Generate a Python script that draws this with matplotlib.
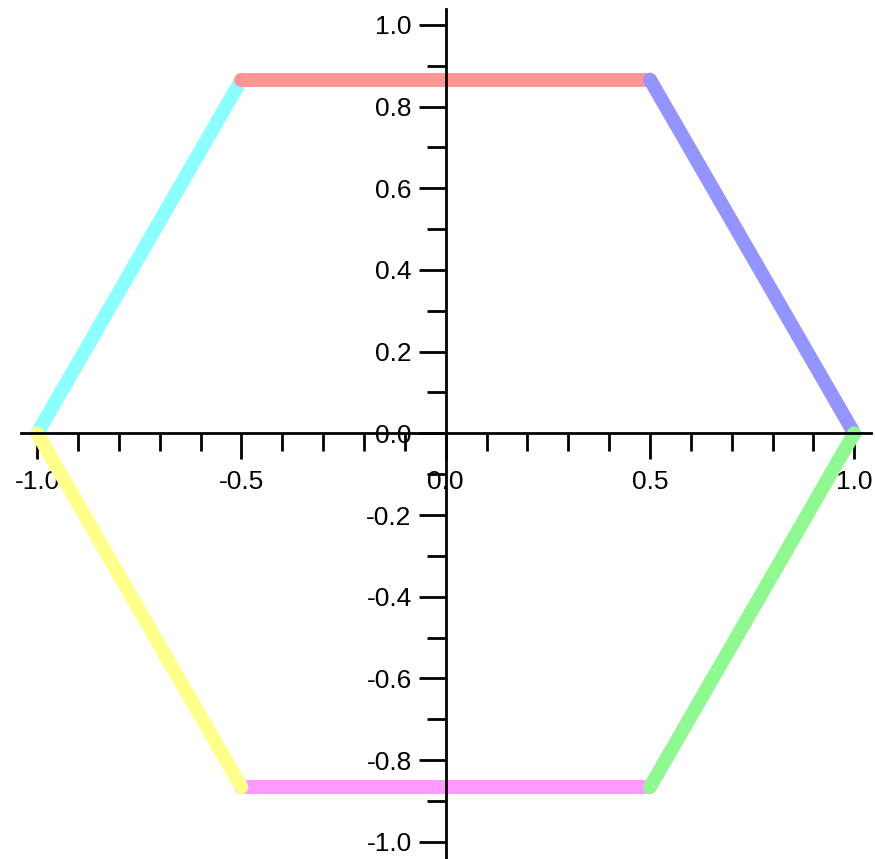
import numpy as np
import matplotlib
matplotlib.use('Agg')
import matplotlib.pyplot as plt
from matplotlib.ticker import MultipleLocator

####################################################################################

plt.rcParams['font.family'] = ['Liberation Sans', 'DejaVu Sans']

FIGURE_XSIZE = 8.75
FIGURE_YSIZE = 8.59
DPI = 100

LINE_WIDTH = 10
LABEL_SIZE = 19

# hexagon edges, each as (start, end) points, in draw order
edge_names = ['upper left', 'top', 'bottom', 'upper right', 'lower left', 'lower right']
edge_x0 = [-1.0, -0.5, -0.5, 0.5, -1.0, 1.0]
edge_y0 = [0.0, 0.866, -0.866, 0.866, 0.0, 0.0]
edge_x1 = [-0.5, 0.5, 0.5, 1.0, -0.5, 0.5]
edge_y1 = [0.866, 0.866, -0.866, 0.0, -0.866, -0.866]
edge_colors = ['#8CFFFF', '#FF9494', '#FF99FF', '#9494FF', '#FFFF8C', '#90F890']

x_major_ticks = [-1.0, -0.5, 0.0, 0.5, 1.0]
y_major_ticks = [-1.0, -0.8, -0.6, -0.4, -0.2, 0.0, 0.2, 0.4, 0.6, 0.8, 1.0]

####################################################################################

def set_axis_properties(axes):
    for side in ['top', 'right']:
        axes.spines[side].set_visible(False)
    for side in ['left', 'bottom']:
        axes.spines[side].set_position(('data', 0))
        axes.spines[side].set_linewidth(2)
        axes.spines[side].set_zorder(10)

    axes.set_xticks(x_major_ticks)
    axes.set_yticks(y_major_ticks)
    axes.set_xticklabels(['%.1f' % v for v in x_major_ticks])
    axes.set_yticklabels(['%.1f' % v for v in y_major_ticks])
    axes.xaxis.set_minor_locator(MultipleLocator(0.1))
    axes.yaxis.set_minor_locator(MultipleLocator(0.1))

    axes.tick_params(axis='x', which='major', direction='out', length=19, width=2,
                     pad=7.5, labelsize=LABEL_SIZE)
    axes.tick_params(axis='x', which='minor', direction='out', length=13, width=2)
    axes.tick_params(axis='y', which='major', direction='out', length=19.5, width=2,
                     pad=5, labelsize=LABEL_SIZE)
    axes.tick_params(axis='y', which='minor', direction='out', length=14, width=2)

    for label in axes.get_xticklabels() + axes.get_yticklabels():
        label.set_zorder(12)

####################################################################################

figure = plt.figure(figsize=(FIGURE_XSIZE, FIGURE_YSIZE), dpi=DPI, facecolor='white')
axes = figure.add_axes([0.0239, -0.0014, 0.971, 0.9915])
axes.set_xlim(-1.04, 1.04)
axes.set_ylim(-1.045, 1.04)
set_axis_properties(axes)

for i in range(len(edge_names)):
    axes.plot([edge_x0[i], edge_x1[i]], [edge_y0[i], edge_y1[i]],
              color=edge_colors[i], linewidth=LINE_WIDTH,
              solid_capstyle='round', zorder=2 + i, clip_on=False)

plt.savefig('out.png', dpi=DPI)
